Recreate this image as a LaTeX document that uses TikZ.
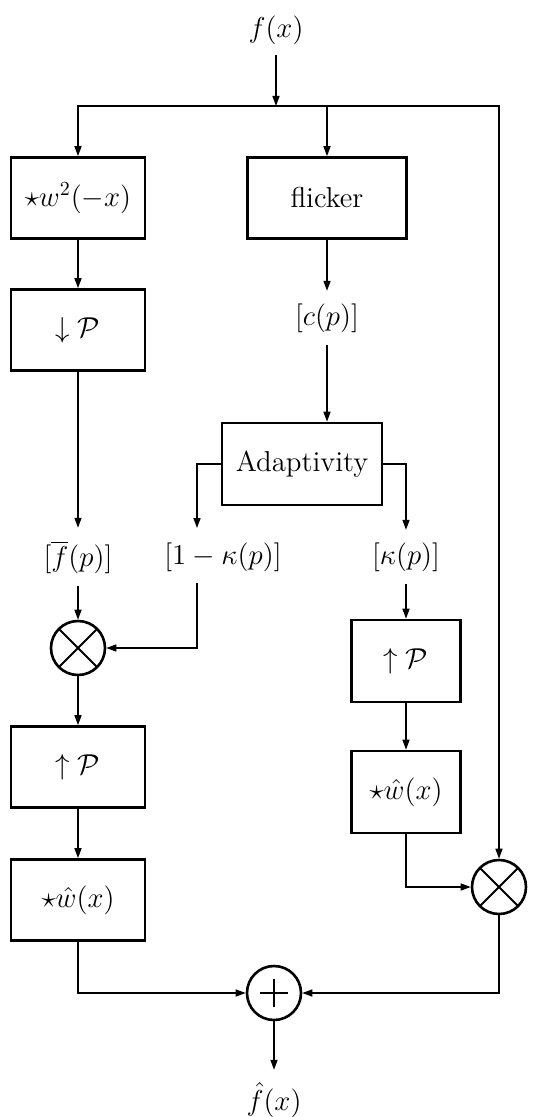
\documentclass[tikz,border=0pt]{standalone}
\usepackage{amsmath, amssymb}
\usepackage{tikz}
\usetikzlibrary{arrows.meta}

\begin{document}
\begin{tikzpicture}[x=0.5pt, y=-0.5pt, >={Triangle[length=5pt, width=3.5pt]},
    font=\Large, line width=0.75pt,
    blk/.style={draw, line width=1.3pt, minimum height=40.5pt, inner sep=0pt},
    sig/.style={inner sep=6pt},
    op/.style={draw, circle, line width=1.3pt, minimum size=27pt, inner sep=0pt},
    mult/.style={op, path picture={
        \draw[line width=1pt] (path picture bounding box.north west) -- (path picture bounding box.south east);
        \draw[line width=1pt] (path picture bounding box.north east) -- (path picture bounding box.south west);}},
    add/.style={op, path picture={
        \draw[line width=1.2pt] ([xshift=-7pt]path picture bounding box.center) -- ([xshift=7pt]path picture bounding box.center);
        \draw[line width=1.2pt] ([yshift=-7pt]path picture bounding box.center) -- ([yshift=7pt]path picture bounding box.center);}}]
  \useasboundingbox (0,0) rectangle (537,1117);
  % Input and split
  \node[sig, inner sep=5pt] (fx) at (276,30) {$f(x)$};
  \coordinate (split) at (276,106);
  % Left branch
  \node[blk, minimum width=67pt] (conv) at (78,198) {$\star w^2(-x)$};
  \node[blk, minimum width=67pt] (down) at (78,330) {$\downarrow \mathcal{P}$};
  \node[sig] (fbar) at (78,557) {$[\overline{f}(p)]$};
  \node[mult] (mulL) at (78,648) {};
  \node[blk, minimum width=67pt] (upL) at (78,767) {$\uparrow \mathcal{P}$};
  \node[blk, minimum width=67pt] (whL) at (78,900) {$\star\hat{w}(x)$};
  % Middle branch
  \node[blk, minimum width=79.5pt] (flicker) at (327,198) {flicker};
  \node[sig] (cp) at (327,318) {$[c(p)]$};
  \node[blk, minimum width=80pt, minimum height=41pt] (adapt) at (302,464) {Adaptivity};
  \node[sig] (omk) at (223,557) {$[1-\kappa(p)]$};
  \coordinate (omkin) at (197,528);
  \coordinate (omkout) at (197,583);
  \node[sig] (kp) at (406,557) {$[\kappa(p)]$};
  % Right branch
  \node[blk, minimum width=54.5pt, minimum height=41pt] (upR) at (406,661) {$\uparrow \mathcal{P}$};
  \node[blk, minimum width=54.5pt, minimum height=41pt] (whR) at (406,792) {$\star\hat{w}(x)$};
  \node[mult] (mulR) at (499,887) {};
  % Output
  \node[add] (sum) at (274,993) {};
  \node[sig] (fhat) at (274,1100) {$\hat{f}(x)$};

  % Connectors
  \draw[->] (fx) -- (split);
  \draw[->] (split) -| (conv.north);
  \draw[->] (split) -| (flicker.north);
  \draw[->] (split) -| (mulR.north);
  \draw[->] (conv) -- (down);
  \draw[->] (down) -- (fbar);
  \draw[->] (flicker) -- (cp);
  \draw[->] (cp) -- (cp |- adapt.north);
  \draw[->] (adapt.west) -| (omkin);
  \draw[->] (adapt.east) -| (kp.north);
  \draw[->] (fbar) -- (mulL);
  \draw[->] (omkout) |- (mulL.east);
  \draw[->] (mulL) -- (upL);
  \draw[->] (upL) -- (whL);
  \draw[->] (kp) -- (upR);
  \draw[->] (upR) -- (whR);
  \draw[->] (whR.south) |- (mulR.west);
  \draw[->] (whL.south) |- (sum.west);
  \draw[->] (mulR.south) |- (sum.east);
  \draw[->] (sum) -- (fhat);
\end{tikzpicture}
\end{document}
